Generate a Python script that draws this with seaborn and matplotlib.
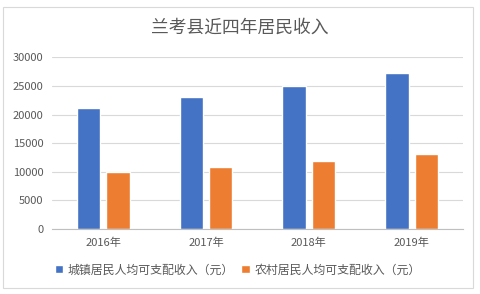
import matplotlib
matplotlib.use("Agg")
import matplotlib.pyplot as plt
import seaborn as sns
import pandas as pd
from matplotlib.patches import Rectangle

years = ["2016年", "2017年", "2018年", "2019年"]
urban = [21100, 23000, 25000, 27200]
rural = [9950, 10850, 11900, 13050]
series_names = ["城镇居民人均可支配收入（元）", "农村居民人均可支配收入（元）"]
yticks = [0, 5000, 10000, 15000, 20000, 25000, 30000]
title = "兰考县近四年居民收入"

df = pd.DataFrame({
    "year": years * 2,
    "value": urban + rural,
    "series": [series_names[0]] * 4 + [series_names[1]] * 4,
})

sns.set_theme(style="white")
plt.rcParams["font.family"] = ["Noto Sans CJK SC", "DejaVu Sans"]

fig = plt.figure(figsize=(4.8, 2.94), dpi=100)
fig.patch.set_facecolor("white")
ax = fig.add_axes([0.1077, 0.221, 0.8573, 0.584])

palette = {series_names[0]: "#4472C4", series_names[1]: "#ED7D31"}
sns.barplot(data=df, x="year", y="value", hue="series", palette=palette,
            width=0.574, gap=0.21, ax=ax, legend=True, saturation=1)

ax.set_ylim(0, 30000)
ax.set_yticks(yticks)
ax.set_yticklabels([str(v) for v in yticks])
ax.set_xlim(-0.5, 3.5)
ax.set_xlabel("")
ax.set_ylabel("")
ax.grid(axis="y", color="#d9d9d9", linewidth=0.8)
ax.set_axisbelow(True)
for s in ["top", "right", "left"]:
    ax.spines[s].set_visible(False)
ax.spines["bottom"].set_color("#bfbfbf")
ax.spines["bottom"].set_linewidth(0.8)
ax.tick_params(axis="both", length=0, colors="#595959", labelsize=8)
ax.tick_params(axis="y", pad=6)
ax.tick_params(axis="x", pad=6)

handles, labels = ax.get_legend_handles_labels()
ax.get_legend().remove()
fig.legend(handles, labels, loc="center", bbox_to_anchor=(0.495, 0.082),
           ncol=2, frameon=False, fontsize=8.6, handlelength=0.7, handleheight=0.7,
           handletextpad=0.4, columnspacing=0.6, labelcolor="#595959")

fig.text(0.5, 0.905, title, ha="center", va="center", fontsize=12.8, color="#595959")

fig.patches.append(Rectangle((3 / 480, 1 - 288 / 294), 470 / 480, 281 / 294,
                             transform=fig.transFigure, fill=False,
                             edgecolor="#d9d9d9", linewidth=0.8))

fig.savefig("out.png", dpi=100)
